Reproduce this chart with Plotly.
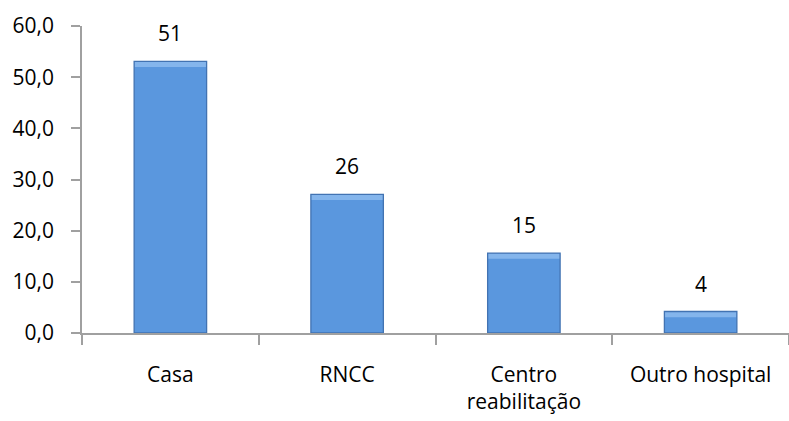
import plotly.graph_objects as go

categories = ["Casa", "RNCC", "Centro<br>reabilitação", "Outro hospital"]
percent = [53.1, 27.1, 15.6, 4.2]
counts = [51, 26, 15, 4]
y_ticks = [0, 10, 20, 30, 40, 50, 60]

font = "Open Sans, Liberation Sans, sans-serif"
bevel = 1.1  # bevel band thickness, in axis units

fig = go.Figure()
# main fill
fig.add_trace(go.Bar(
    x=categories, y=percent, width=0.41,
    marker=dict(color="#5A97DE", line=dict(width=0)),
    showlegend=False, hoverinfo="skip",
))
# lighter top bevel band
fig.add_trace(go.Bar(
    x=categories, y=[bevel] * len(percent), base=[p - bevel for p in percent],
    width=0.41,
    marker=dict(color="#84B5EC", line=dict(width=0)),
    showlegend=False, hoverinfo="skip",
))
# outline on top
fig.add_trace(go.Bar(
    x=categories, y=percent, width=0.41,
    marker=dict(color="rgba(0,0,0,0)", line=dict(color="#4273B2", width=1.3)),
    showlegend=False, hoverinfo="skip",
))
for c, p, n in zip(categories, percent, counts):
    fig.add_annotation(x=c, y=p, text=str(n), showarrow=False, yanchor="bottom",
                       yshift=12, font=dict(family=font, size=21, color="#000000"))

fig.update_layout(
    width=789, height=421,
    margin=dict(l=82, r=0, t=26, b=88),
    paper_bgcolor="white", plot_bgcolor="white",
    separators=",.",
    barmode="overlay",
)
fig.update_yaxes(range=[0, 60], tickvals=y_ticks, tickformat=".1f",
                 showgrid=False, showline=True, linecolor="#A0A0A0", linewidth=1.5,
                 ticks="outside", ticklen=9, tickcolor="#A0A0A0", tickwidth=1.5,
                 tickfont=dict(family=font, size=21, color="#000000"),
                 ticklabelstandoff=13, zeroline=False)
fig.update_xaxes(showgrid=False, showline=True, linecolor="#A0A0A0", linewidth=1.5,
                 ticks="outside", ticklen=10, tickcolor="#A0A0A0", tickwidth=1.5,
                 tickson="boundaries",
                 tickfont=dict(family=font, size=21, color="#000000"),
                 ticklabelstandoff=22)

fig.write_html("out.html")
